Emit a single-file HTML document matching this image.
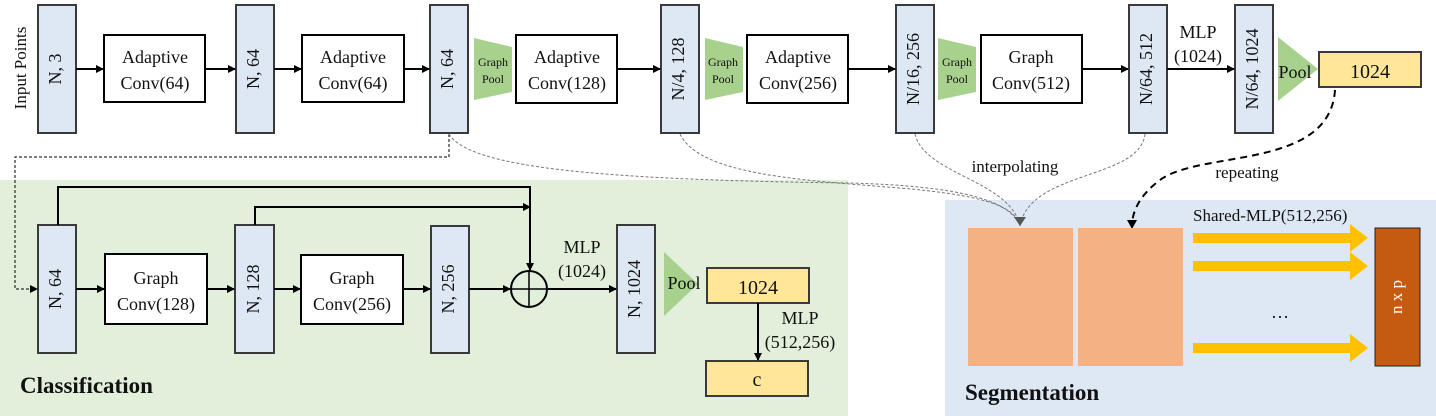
<!DOCTYPE html>
<html><head><style>body{margin:0;background:#fff}svg{display:block}text{font-family:"Liberation Serif",serif;fill:#111}</style></head><body>
<svg width="1436" height="416" viewBox="0 0 1436 416" xmlns="http://www.w3.org/2000/svg">
<defs>
<marker id="a" markerWidth="8" markerHeight="8" refX="7" refY="4" orient="auto" markerUnits="userSpaceOnUse"><path d="M0,0 L8,4 L0,8 z" fill="#000"/></marker>
</defs>
<rect x="0" y="180" width="848" height="236" fill="#e2efda"/>
<rect x="945" y="200" width="491" height="216" fill="#dde8f4"/>
<g stroke="#3a3a3a" stroke-width="2" fill="#dde8f4">
<rect x="38" y="5" width="38" height="128"/><rect x="236" y="5" width="38" height="128"/><rect x="430" y="5" width="38" height="128"/><rect x="661" y="5" width="38" height="128"/><rect x="896" y="5" width="38" height="128"/><rect x="1129" y="5" width="38" height="128"/><rect x="1235" y="5" width="38" height="128"/>
<rect x="38" y="225" width="38" height="128"/><rect x="235" y="225" width="39" height="128"/><rect x="431" y="226" width="38" height="127"/><rect x="617" y="225" width="38" height="128"/>
</g>
<g stroke="#000" stroke-width="2" fill="#fff">
<rect x="104" y="35" width="101" height="67"/><rect x="302" y="35" width="102" height="67"/><rect x="516" y="35" width="101" height="68"/><rect x="747" y="35" width="101" height="68"/><rect x="981" y="35" width="101" height="68"/>
<rect x="105" y="254" width="102" height="70"/><rect x="301" y="255" width="102" height="69"/>
</g>
<g fill="#a9d18e"><path d="M474,38 L512,47 L512,92 L474,100z"/><path d="M705,38 L743,47 L743,92 L705,100z"/><path d="M938,38 L976,47 L976,92 L938,100z"/><path d="M1278,37 L1318,69 L1278,101z"/><path d="M664,252 L698,284 L664,316z"/></g>
<g stroke="#3a3a3a" stroke-width="2" fill="#ffe699"><rect x="1319" y="52" width="102" height="35"/><rect x="707" y="268" width="102" height="35"/><rect x="706" y="361" width="102" height="35"/></g>
<g font-size="18" text-anchor="middle">
<text transform="translate(57,69) rotate(-90)" dominant-baseline="middle">N, 3</text>
<text transform="translate(255,69) rotate(-90)" dominant-baseline="middle">N, 64</text>
<text transform="translate(449,69) rotate(-90)" dominant-baseline="middle">N, 64</text>
<text transform="translate(680,69) rotate(-90)" dominant-baseline="middle">N/4, 128</text>
<text transform="translate(915,69) rotate(-90)" dominant-baseline="middle">N/16, 256</text>
<text transform="translate(1148,69) rotate(-90)" dominant-baseline="middle">N/64, 512</text>
<text transform="translate(1254,69) rotate(-90)" dominant-baseline="middle">N/64, 1024</text>
<text transform="translate(57,289) rotate(-90)" dominant-baseline="middle">N, 64</text>
<text transform="translate(255,289) rotate(-90)" dominant-baseline="middle">N, 128</text>
<text transform="translate(450,289) rotate(-90)" dominant-baseline="middle">N, 256</text>
<text transform="translate(636,289) rotate(-90)" dominant-baseline="middle">N, 1024</text>
<text transform="translate(22,68) rotate(-90)" dominant-baseline="middle" font-size="17">Input Points</text>
</g>
<g font-size="18" text-anchor="middle">
<text x="155" y="63">Adaptive</text><text x="155" y="89">Conv(64)</text>
<text x="353" y="63">Adaptive</text><text x="353" y="89">Conv(64)</text>
<text x="567" y="63">Adaptive</text><text x="567" y="89">Conv(128)</text>
<text x="798" y="63">Adaptive</text><text x="798" y="89">Conv(256)</text>
<text x="1031" y="63">Graph</text><text x="1031" y="89">Conv(512)</text>
<text x="156" y="284">Graph</text><text x="156" y="310">Conv(128)</text>
<text x="352" y="284">Graph</text><text x="352" y="310">Conv(256)</text>
<text x="1198" y="38">MLP</text><text x="1198" y="62">(1024)</text>
<text x="582" y="253">MLP</text><text x="582" y="277">(1024)</text>
<text x="800" y="324">MLP</text><text x="800" y="348">(512,256)</text>
<text x="1370" y="78" font-size="20">1024</text><text x="758" y="294" font-size="20">1024</text><text x="757" y="386" font-size="20">c</text>
<text x="1295" y="78">Pool</text><text x="684" y="289">Pool</text>
<text x="1015" y="172" font-size="17">interpolating</text><text x="1247" y="178" font-size="17">repeating</text>
<text x="1280" y="318">…</text>
</g>
<g font-size="12" text-anchor="middle"><text x="493" y="66">Graph</text><text x="493" y="83">Pool</text><text x="723" y="66">Graph</text><text x="723" y="83">Pool</text><text x="957" y="66">Graph</text><text x="957" y="83">Pool</text></g>
<text x="1193" y="221" font-size="17">Shared-MLP(512,256)</text>
<text x="20" y="393" font-size="23" font-weight="bold">Classification</text>
<text x="965" y="400" font-size="23" font-weight="bold">Segmentation</text>
<g stroke="#000" stroke-width="2" fill="none" marker-end="url(#a)">
<path d="M76,69H103"/><path d="M205,69H235"/><path d="M274,69H301"/><path d="M404,69H429"/><path d="M617,69H660"/><path d="M848,69H895"/><path d="M1082,69H1128"/><path d="M1167,69H1234"/>
<path d="M76,289H104"/><path d="M207,289H234"/><path d="M274,289H300"/><path d="M403,289H430"/><path d="M469,289H510"/><path d="M548,289H616"/><path d="M758,303V360"/>
<path d="M58,225V187H530V270"/><path d="M255,225V207H530"/>
</g>
<circle cx="529" cy="289" r="18" fill="none" stroke="#000" stroke-width="2"/><path d="M529,271V307M511,289H547" stroke="#000" stroke-width="1.5"/>
<path d="M449,134V157H15V289H37" fill="none" stroke="#000" stroke-width="1" stroke-dasharray="3,2" marker-end="url(#a)"/>
<g fill="none" stroke="#777" stroke-width="1" stroke-dasharray="3,2">
<path d="M449,134 C470,170 620,180 850,183 C960,186 1010,200 1020,226"/>
<path d="M680,134 C700,175 800,180 900,188 C980,195 1015,205 1020,226"/>
<path d="M915,134 C925,175 1010,180 1020,226"/>
<path d="M1145,134 C1140,180 1030,170 1020,226"/>
</g>
<path d="M1020,226 l-6,-9 h12z" fill="#555"/>
<path d="M1335,90 C1330,170 1200,150 1160,180 C1140,195 1133,210 1132,224" fill="none" stroke="#000" stroke-width="2" stroke-dasharray="7,5"/>
<path d="M1132,229 l-5,-9 h10z" fill="#000"/>
<g fill="#f4b183"><rect x="968" y="228" width="105" height="138"/><rect x="1078" y="228" width="105" height="138"/></g>
<g fill="#ffc000"><path d="M1193,233h157v-9l18,14l-18,14v-9h-157z"/><path d="M1193,261h157v-9l18,14l-18,14v-9h-157z"/><path d="M1193,343h157v-9l18,14l-18,14v-9h-157z"/></g>
<rect x="1375" y="228" width="45" height="138" fill="#c55a11" stroke="#222" stroke-width="1"/>
<text transform="translate(1398,297) rotate(-90)" text-anchor="middle" dominant-baseline="middle" font-size="17" style="fill:#fff">n x p</text>
</svg>
</body></html>
